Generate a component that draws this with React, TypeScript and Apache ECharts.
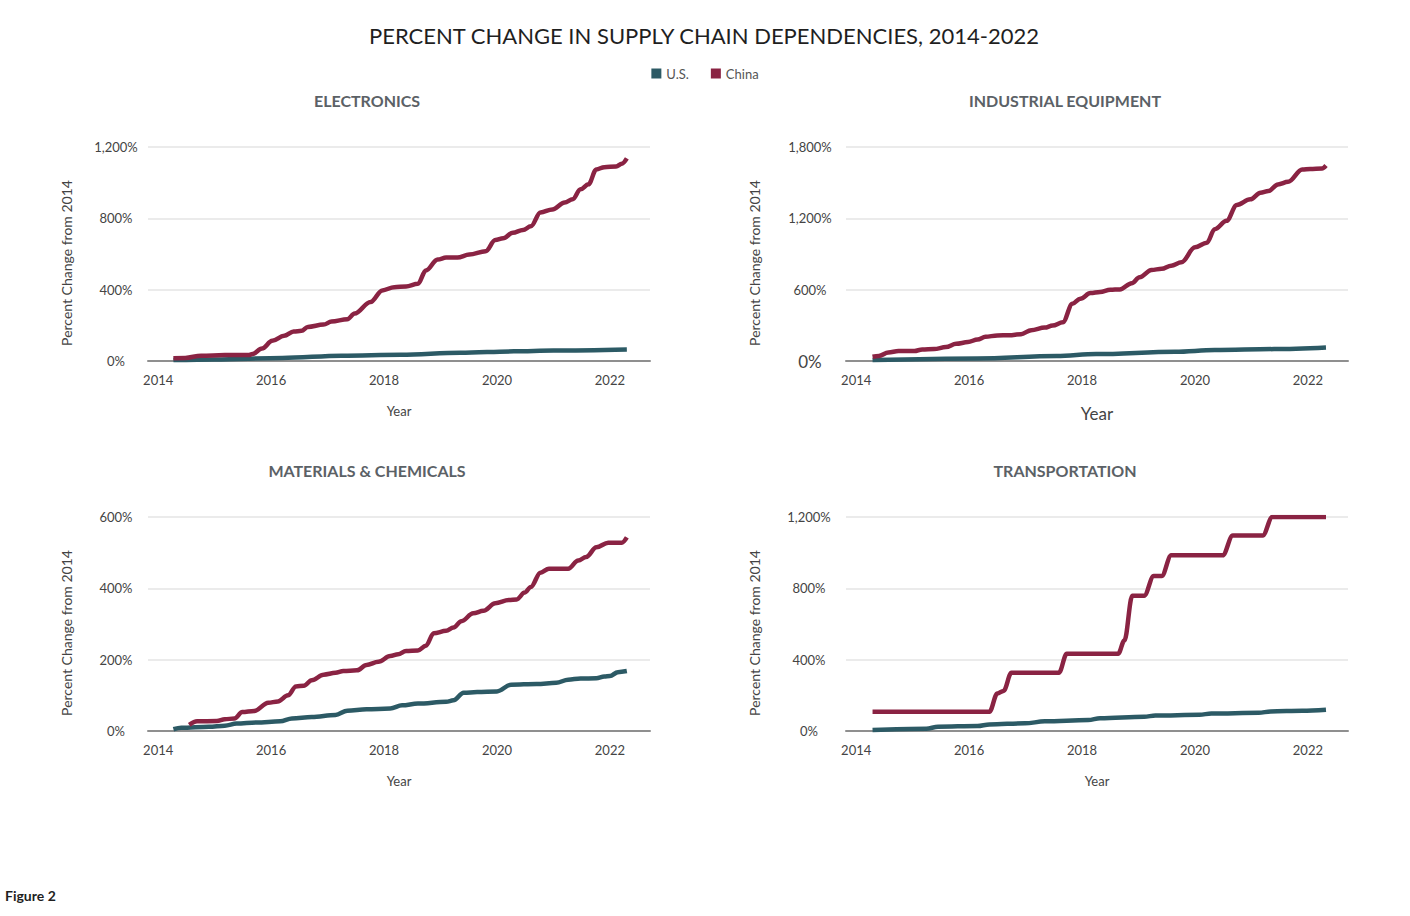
import React, { useEffect, useRef } from "react";
import * as echarts from "echarts";

const yearLabels = [2014, 2016, 2018, 2020, 2022];

const elecChina = [
  [2014.27, 15], [2014.48, 17], [2014.76, 30], [2015.18, 33], [2015.6, 33], [2015.67, 39],
  [2015.84, 70], [2016.02, 113], [2016.23, 141], [2016.4, 165], [2016.54, 169], [2016.65, 191],
  [2016.93, 204], [2017.07, 221], [2017.35, 234], [2017.48, 266], [2017.76, 331], [2017.97, 396],
  [2018.18, 414], [2018.39, 418], [2018.6, 433], [2018.74, 507], [2018.95, 569], [2019.1, 580],
  [2019.3, 580], [2019.51, 597], [2019.8, 615], [2019.97, 678], [2020.11, 688], [2020.28, 719],
  [2020.46, 734], [2020.6, 755], [2020.77, 833], [2020.98, 850], [2021.2, 889], [2021.34, 907],
  [2021.48, 963], [2021.62, 991], [2021.76, 1074], [2021.9, 1087], [2022.11, 1091], [2022.21, 1106],
  [2022.3, 1136],
];
const elecUS = [
  [2014.27, 5], [2015.0, 9], [2016.2, 17], [2017.25, 30], [2018.3, 35], [2019.35, 46],
  [2020.3, 54], [2021.0, 59], [2022.3, 65],
];

const indChina = [
  [2014.29, 36], [2014.4, 42], [2014.57, 72], [2014.75, 84], [2015.03, 84], [2015.17, 97],
  [2015.38, 100], [2015.59, 117], [2015.77, 145], [2015.98, 159], [2016.15, 181], [2016.29, 203],
  [2016.5, 215], [2016.71, 217], [2016.92, 226], [2017.1, 259], [2017.34, 281], [2017.48, 298],
  [2017.66, 326], [2017.83, 482], [2017.97, 524], [2018.15, 571], [2018.32, 580], [2018.5, 599],
  [2018.67, 602], [2018.88, 655], [2019.02, 705], [2019.23, 766], [2019.41, 775], [2019.58, 802],
  [2019.76, 830], [2020.0, 956], [2020.21, 995], [2020.35, 1109], [2020.56, 1179], [2020.74, 1312],
  [2020.98, 1360], [2021.16, 1415], [2021.3, 1429], [2021.47, 1485], [2021.65, 1507], [2021.9, 1610],
  [2022.04, 1616], [2022.25, 1619], [2022.32, 1644],
];
const indUS = [
  [2014.29, 8], [2016.15, 22], [2017.55, 42], [2018.25, 58], [2019.65, 78], [2020.35, 92],
  [2021.4, 100], [2022.32, 114],
];

const matChina = [
  [2014.55, 17], [2014.69, 27], [2015.04, 28], [2015.18, 33], [2015.35, 35], [2015.49, 53],
  [2015.7, 56], [2015.95, 79], [2016.12, 83], [2016.3, 100], [2016.44, 125], [2016.58, 127],
  [2016.72, 142], [2016.93, 158], [2017.14, 163], [2017.28, 168], [2017.52, 170], [2017.69, 185],
  [2017.9, 194], [2018.11, 210], [2018.25, 215], [2018.39, 224], [2018.6, 226], [2018.74, 239],
  [2018.88, 274], [2019.1, 281], [2019.23, 290], [2019.37, 308], [2019.58, 330], [2019.76, 337],
  [2019.97, 358], [2020.21, 367], [2020.35, 369], [2020.49, 388], [2020.6, 404], [2020.77, 444],
  [2020.92, 455], [2021.26, 455], [2021.44, 478], [2021.58, 488], [2021.76, 515], [2021.97, 528],
  [2022.21, 528], [2022.3, 543],
];
const matUS = [
  [2014.27, 5], [2014.41, 9], [2014.9, 12], [2015.18, 15], [2015.39, 21], [2015.74, 24],
  [2016.16, 27], [2016.37, 35], [2016.72, 39], [2017.14, 45], [2017.35, 57], [2017.69, 61],
  [2018.11, 63], [2018.32, 72], [2018.6, 77], [2019.1, 82], [2019.23, 86], [2019.41, 107],
  [2019.65, 109], [2020.0, 111], [2020.25, 130], [2020.7, 132], [2021.05, 135], [2021.26, 144],
  [2021.48, 147], [2021.76, 148], [2021.9, 153], [2022.0, 154], [2022.14, 165], [2022.3, 168],
];

const trChina = [
  [2014.29, 108], [2016.36, 108], [2016.5, 210], [2016.61, 225], [2016.75, 327], [2017.59, 327],
  [2017.73, 433], [2018.64, 433], [2018.75, 507], [2018.89, 758], [2019.1, 758], [2019.27, 869],
  [2019.41, 869], [2019.58, 985], [2020.49, 985], [2020.67, 1096], [2021.2, 1096], [2021.37, 1200],
  [2022.32, 1200],
];
const trUS = [
  [2014.29, 6], [2015.24, 13], [2015.45, 24], [2016.15, 28], [2016.36, 37], [2016.99, 43],
  [2017.34, 54], [2018.11, 61], [2018.32, 72], [2019.1, 80], [2019.3, 87], [2020.08, 91],
  [2020.29, 98], [2021.13, 102], [2021.34, 110], [2021.9, 113], [2022.32, 119],
];

const US_COLOR = "#2c5a65";
const CN_COLOR = "#8a2343";
const FONT = "Lato";

const panels = [
  { title: "ELECTRONICS", tx: 367, ty: 100, left: 148, top: 147, max: 1200, step: 400, us: elecUS, cn: elecChina, labelMargin: 32, nameX: 66, big: false },
  { title: "INDUSTRIAL EQUIPMENT", tx: 1065, ty: 100, left: 846, top: 147, max: 1800, step: 600, us: indUS, cn: indChina, labelMargin: 36, nameX: 754, big: true },
  { title: "MATERIALS & CHEMICALS", tx: 367, ty: 470, left: 148, top: 517, max: 600, step: 200, us: matUS, cn: matChina, labelMargin: 32, nameX: 66, big: false },
  { title: "TRANSPORTATION", tx: 1065, ty: 470, left: 846, top: 517, max: 1200, step: 400, us: trUS, cn: trChina, labelMargin: 37, nameX: 754, big: false },
];

export default function App() {
  const ref = useRef<HTMLDivElement>(null);
  useEffect(() => {
    document.body.style.margin = "0";
    if (!ref.current) return;
    const chart = echarts.init(ref.current, null, { renderer: "svg" });

    const grid = panels.map((p) => ({ left: p.left, top: p.top, width: 502, height: 214 }));
    const xAxis = panels.map((p, i) => ({
      type: "value",
      gridIndex: i,
      min: 2013.82,
      max: 2022.71,
      name: "Year",
      nameLocation: "middle",
      nameGap: p.big ? 44 : 43,
      nameTextStyle: { color: "#444", fontSize: p.big ? 17 : 13, fontFamily: FONT },
      axisLine: { show: true, onZero: false, lineStyle: { color: "#8f8f8f", width: 2 } },
      axisTick: { show: false },
      splitLine: { show: false },
      axisLabel: {
        customValues: yearLabels,
        color: "#444",
        fontSize: 13,
        fontFamily: FONT,
        margin: 12,
        formatter: (v: number) => String(v),
      },
    }));
    const yAxis = panels.map((p, i) => ({
      type: "value",
      gridIndex: i,
      min: 0,
      max: p.max,
      interval: p.step,
      axisLine: { show: false },
      axisTick: { show: false },
      splitLine: { show: true, lineStyle: { color: "#ebebeb", width: 2 } },
      axisLabel: {
        align: "center",
        margin: p.labelMargin,
        color: "#444",
        fontSize: 13,
        fontFamily: FONT,
        formatter: (v: number) => {
          const s = v.toLocaleString("en-US") + "%";
          return p.big && v === 0 ? "{big|" + s + "}" : s;
        },
        rich: { big: { fontSize: 17, color: "#444", fontFamily: FONT } },
      },
    }));
    const series: any[] = [];
    panels.forEach((p, i) => {
      series.push({
        name: "U.S.", type: "line", xAxisIndex: i, yAxisIndex: i, data: p.us,
        symbol: "none", smooth: 0.35, smoothMonotone: "x",
        lineStyle: { color: US_COLOR, width: 4.5 }, itemStyle: { color: US_COLOR },
      });
      series.push({
        name: "China", type: "line", xAxisIndex: i, yAxisIndex: i, data: p.cn,
        symbol: "none", smooth: 0.35, smoothMonotone: "x",
        lineStyle: { color: CN_COLOR, width: 4.5 }, itemStyle: { color: CN_COLOR },
      });
    });

    const graphic: any[] = [];
    panels.forEach((p) => {
      graphic.push({
        type: "text",
        x: p.tx,
        y: p.ty,
        style: {
          text: p.title,
          textAlign: "center",
          textVerticalAlign: "middle",
          fill: "#5b6166",
          font: `bold 16px ${FONT}`,
        },
      });
      graphic.push({
        type: "text",
        x: p.nameX,
        y: p.top + 116,
        rotation: Math.PI / 2,
        style: {
          text: "Percent Change from 2014",
          textAlign: "center",
          textVerticalAlign: "middle",
          fill: "#444",
          font: `14px ${FONT}`,
        },
      });
    });
    graphic.push({
      type: "text",
      x: 704,
      y: 35,
      style: {
        text: "PERCENT CHANGE IN SUPPLY CHAIN DEPENDENCIES, 2014-2022",
        textAlign: "center",
        textVerticalAlign: "middle",
        fill: "#1f1f1f",
        font: `22px ${FONT}`,
      },
    });
    graphic.push({
      type: "text",
      x: 5,
      y: 895,
      style: {
        text: "Figure 2",
        textAlign: "left",
        textVerticalAlign: "middle",
        fill: "#1f1f1f",
        font: `bold 14px ${FONT}`,
      },
    });

    chart.setOption({
      animation: false,
      backgroundColor: "#ffffff",
      legend: {
        data: ["U.S.", "China"],
        top: 62,
        left: "center",
        icon: "rect",
        itemWidth: 10,
        itemHeight: 10,
        itemGap: 22,
        textStyle: { color: "#555", fontSize: 13, fontFamily: FONT },
      },
      grid,
      xAxis,
      yAxis,
      series,
      graphic,
    });
    return () => chart.dispose();
  }, []);
  return <div ref={ref} style={{ width: 1410, height: 916 }} />;
}
